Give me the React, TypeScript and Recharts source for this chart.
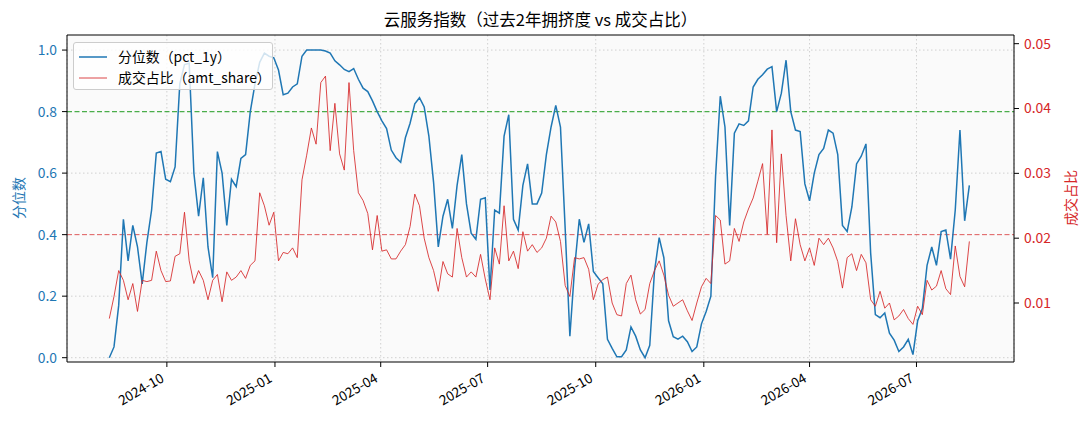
import React from "react";
import { LineChart, Line, XAxis, YAxis, CartesianGrid, ReferenceLine, Legend } from "recharts";

// sampled every 4 days starting from startDate
const startDate = "2024-08-13";
const stepDays = 4;

const pct1y = [
  0.0, 0.035, 0.17, 0.45, 0.315, 0.43, 0.36, 0.24, 0.375, 0.48,
  0.665, 0.67, 0.58, 0.572, 0.62, 0.89, 0.953, 0.957, 0.6, 0.46,
  0.585, 0.36, 0.26, 0.67, 0.6, 0.43, 0.58, 0.556, 0.648, 0.66,
  0.8, 0.89, 0.96, 0.99, 0.98, 0.975, 0.935, 0.855, 0.86, 0.88,
  0.89, 0.98, 1.0, 1.0, 1.0, 1.0, 0.997, 0.99, 0.965, 0.952,
  0.937, 0.93, 0.94, 0.905, 0.876, 0.865, 0.835, 0.8, 0.77, 0.745,
  0.675, 0.65, 0.635, 0.715, 0.762, 0.825, 0.845, 0.815, 0.72, 0.57,
  0.36, 0.46, 0.515, 0.42, 0.56, 0.66, 0.5, 0.405, 0.385, 0.515,
  0.52, 0.22, 0.48, 0.47, 0.72, 0.79, 0.45, 0.415, 0.56, 0.63,
  0.5, 0.5, 0.535, 0.66, 0.75, 0.82, 0.75, 0.42, 0.07, 0.29,
  0.45, 0.375, 0.435, 0.28, 0.26, 0.24, 0.06, 0.03, 0.003, 0.003,
  0.025, 0.1, 0.07, 0.025, 0.0, 0.04, 0.28, 0.39, 0.325, 0.12,
  0.068, 0.06, 0.07, 0.052, 0.02, 0.035, 0.11, 0.15, 0.2, 0.59,
  0.85, 0.75, 0.43, 0.73, 0.76, 0.755, 0.77, 0.88, 0.905, 0.92,
  0.938, 0.946, 0.8, 0.86, 0.967, 0.8, 0.74, 0.735, 0.565, 0.51,
  0.6, 0.66, 0.68, 0.74, 0.73, 0.66, 0.43, 0.41, 0.49, 0.63,
  0.655, 0.695, 0.34, 0.14, 0.13, 0.145, 0.08, 0.057, 0.02, 0.035,
  0.06, 0.01, 0.12, 0.16, 0.3, 0.36, 0.3, 0.41, 0.415, 0.32,
  0.48, 0.74, 0.445, 0.56,
];

const amtShare = [
  0.0076, 0.011, 0.015, 0.0135, 0.0105, 0.013, 0.0087, 0.0135, 0.0133, 0.0135,
  0.018, 0.015, 0.0133, 0.0134, 0.0172, 0.0176, 0.024, 0.0165, 0.013, 0.015,
  0.0135, 0.0105, 0.0135, 0.0144, 0.0102, 0.0148, 0.0135, 0.014, 0.015, 0.0138,
  0.0158, 0.0165, 0.027, 0.025, 0.022, 0.024, 0.0165, 0.0178, 0.0176, 0.0185,
  0.017, 0.029, 0.0328, 0.037, 0.0345, 0.044, 0.045, 0.0335, 0.0408, 0.033,
  0.0305, 0.044, 0.0335, 0.027, 0.0258, 0.0238, 0.0182, 0.0235, 0.018, 0.0182,
  0.0168, 0.0168, 0.018, 0.019, 0.0218, 0.0268, 0.025, 0.02, 0.017, 0.015,
  0.0118, 0.0164, 0.0145, 0.014, 0.0215, 0.017, 0.014, 0.0148, 0.014, 0.0175,
  0.0137, 0.0105, 0.0185, 0.016, 0.025, 0.0165, 0.018, 0.0153, 0.021, 0.018,
  0.019, 0.0178, 0.0185, 0.02, 0.0234, 0.0225, 0.0195, 0.0127, 0.011, 0.017,
  0.0168, 0.017, 0.0152, 0.0105, 0.0129, 0.0136, 0.014, 0.01, 0.0082, 0.008,
  0.013, 0.0143, 0.0105, 0.0083, 0.009, 0.013, 0.015, 0.0165, 0.0143, 0.0112,
  0.0095, 0.01, 0.0105, 0.0088, 0.0073, 0.01, 0.0125, 0.0138, 0.013, 0.0235,
  0.0228, 0.016, 0.0165, 0.0215, 0.0195, 0.0225, 0.0245, 0.0262, 0.0288, 0.0315,
  0.0206, 0.0367, 0.0193, 0.033, 0.0235, 0.0165, 0.023, 0.019, 0.0165, 0.0185,
  0.0158, 0.02, 0.019, 0.02, 0.0185, 0.0164, 0.0123, 0.017, 0.0176, 0.015,
  0.0175, 0.0162, 0.0105, 0.0095, 0.0118, 0.0092, 0.01, 0.0074, 0.008, 0.009,
  0.0076, 0.0067, 0.0095, 0.0082, 0.0135, 0.012, 0.0126, 0.015, 0.0122, 0.0113,
  0.0188, 0.0141, 0.0125, 0.0195,
];

const xTickDates = [
  "2024-10-01", "2025-01-01", "2025-04-01", "2025-07-01",
  "2025-10-01", "2026-01-01", "2026-04-01", "2026-07-01",
];
const xRange = ["2024-07-08", "2026-09-22"];
const pctTicks = [0, 0.2, 0.4, 0.6, 0.8, 1.0];
const shareTicks = [0.01, 0.02, 0.03, 0.04, 0.05];
// the 0.4 / 0.8 grid rows sit under the threshold lines
const gridRows = [0, 0.2, 0.6, 1.0];

const BLUE = "#1f77b4";
const RED = "#d62728";
const GREEN = "#2ca02c";
const GRID = "#d0d0d0";
const FONT = '"Noto Sans CJK SC", "Noto Sans", sans-serif';
const DAY = 86400000;
const toTime = (s: string) => Date.parse(s + "T00:00:00Z");

const chartData = pct1y.map((p, i) => ({
  t: toTime(startDate) + i * stepDays * DAY,
  pct: p,
  share: amtShare[i],
}));

const legendItems = [
  { label: "分位数（pct_1y）", color: BLUE, width: 1.5, opacity: 1 },
  { label: "成交占比（amt_share）", color: RED, width: 1, opacity: 0.85 },
];

const DateTick = ({ x, y, payload }: any) => {
  const label = new Date(payload.value).toISOString().slice(0, 7);
  return (
    <g transform={`translate(${x - 2},${y + 11})`}>
      <text textAnchor="end" transform="rotate(-30)" fontSize={13.5} fill="#000">
        {label}
      </text>
    </g>
  );
};

const AxisTitle = ({ cx, text, color }: any) => (
  <text
    x={cx}
    y={198}
    transform={`rotate(-90, ${cx}, 198)`}
    textAnchor="middle"
    dominantBaseline="central"
    fontSize={14}
    fill={color}
  >
    {text}
  </text>
);

const LegendBox = () => (
  <div
    style={{
      width: 200,
      height: 48,
      boxSizing: "border-box",
      padding: "3px 0 0 5px",
      background: "rgba(255,255,255,0.8)",
      border: "1px solid #cccccc",
      borderRadius: 3,
      fontSize: 13.9,
      color: "#000",
      whiteSpace: "nowrap",
    }}
  >
    {legendItems.map((item) => (
      <div key={item.label} style={{ display: "flex", alignItems: "center", height: 21 }}>
        <svg width={28} height={10}>
          <line x1={0} y1={5} x2={28} y2={5} stroke={item.color} strokeWidth={item.width} strokeOpacity={item.opacity} />
        </svg>
        <span style={{ marginLeft: 11, lineHeight: "21px" }}>{item.label}</span>
      </div>
    ))}
  </div>
);

export default function App() {
  return (
    <div style={{ position: "absolute", left: 0, top: 0, width: 1089, height: 429, background: "#fff", fontFamily: FONT }}>
      <div
        style={{
          position: "absolute",
          left: 67,
          width: 947,
          top: 9,
          textAlign: "center",
          fontSize: 16.5,
          lineHeight: "20px",
          color: "#000",
        }}
      >
        云服务指数（过去2年拥挤度 vs 成交占比）
      </div>
      <LineChart width={1089} height={429} data={chartData} margin={{ top: 35, right: 0, bottom: 0, left: 0 }}>
        <CartesianGrid
          yAxisId="left"
          stroke={GRID}
          strokeDasharray="1.5 2.5"
          fill="#fafafa"
          fillOpacity={1}
          horizontal={false}
        />
        <XAxis
          dataKey="t"
          type="number"
          domain={[toTime(xRange[0]), toTime(xRange[1])]}
          allowDataOverflow
          ticks={xTickDates.map(toTime)}
          interval={0}
          tick={<DateTick />}
          tickSize={5}
          tickMargin={3}
          tickLine={{ stroke: "#000" }}
          axisLine={{ stroke: "#000" }}
          height={67}
        />
        <YAxis
          yAxisId="left"
          domain={[-0.014, 1.049]}
          allowDataOverflow
          ticks={pctTicks}
          interval={0}
          tickFormatter={(v: number) => v.toFixed(1)}
          tick={{ fill: BLUE, fontSize: 13.9 }}
          tickSize={5}
          tickMargin={5}
          tickLine={{ stroke: "#000" }}
          axisLine={{ stroke: "#000" }}
          width={67}
          label={<AxisTitle cx={18} text="分位数" color={BLUE} />}
        />
        <YAxis
          yAxisId="right"
          orientation="right"
          domain={[0.0009, 0.05134]}
          allowDataOverflow
          ticks={shareTicks}
          interval={0}
          tickFormatter={(v: number) => v.toFixed(2)}
          tick={{ fill: RED, fontSize: 13.9 }}
          tickSize={5}
          tickMargin={5}
          tickLine={{ stroke: "#000" }}
          axisLine={{ stroke: "#000" }}
          width={75}
          label={<AxisTitle cx={1070} text="成交占比" color={RED} />}
        />
        {gridRows.map((v) => (
          <ReferenceLine key={`row-${v}`} yAxisId="left" y={v} stroke={GRID} strokeDasharray="1.5 2.5" />
        ))}
        <ReferenceLine yAxisId="left" y={0.4} stroke={RED} strokeOpacity={0.75} strokeDasharray="5 2.5" />
        <ReferenceLine yAxisId="left" y={0.8} stroke={GREEN} strokeOpacity={0.85} strokeWidth={1.1} strokeDasharray="5 2.5" />
        <ReferenceLine yAxisId="left" y={1.049} stroke="#000" />
        <Line
          yAxisId="left"
          dataKey="pct"
          type="linear"
          stroke={BLUE}
          strokeWidth={1.5}
          dot={false}
          isAnimationActive={false}
        />
        <Line
          yAxisId="right"
          dataKey="share"
          type="linear"
          stroke={RED}
          strokeOpacity={0.85}
          strokeWidth={1}
          dot={false}
          isAnimationActive={false}
        />
        <Legend
          layout="horizontal"
          verticalAlign="middle"
          content={<LegendBox />}
          wrapperStyle={{ position: "absolute", left: 73, top: 42, width: 200, height: 48 }}
        />
      </LineChart>
    </div>
  );
}
